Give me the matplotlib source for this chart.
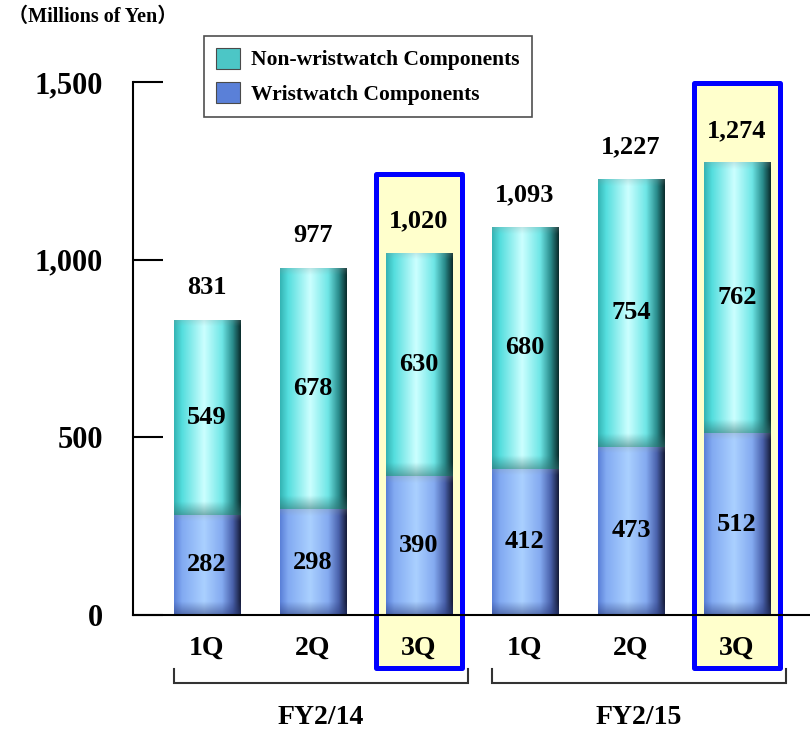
import numpy as np
import matplotlib
matplotlib.use("Agg")
import matplotlib.pyplot as plt
from matplotlib.patches import Rectangle, Patch
from matplotlib.colors import to_rgb

plt.rcParams['font.family'] = ['Liberation Serif', 'Noto Sans CJK JP', 'DejaVu Sans']
plt.rcParams['font.weight'] = 'bold'

# ---- data ----
quarters = ['1Q', '2Q', '3Q', '1Q', '2Q', '3Q']
wristwatch = [282, 298, 390, 412, 473, 512]
non_wristwatch = [549, 678, 630, 680, 754, 762]
totals = [831, 977, 1020, 1093, 1227, 1274]
groups = ['FY2/14', 'FY2/15']
group_members = [[0, 1, 2], [3, 4, 5]]
highlight = [2, 5]
y_ticks = [0, 500, 1000, 1500]
y_labels = ['0', '500', '1,000', '1,500']

# ---- styles ----
cyan_stops = [(0.0, '#34b4b4'), (0.12, '#55dede'), (0.45, '#ccffff'),
              (0.72, '#6ee6e6'), (0.88, '#2a8c8c'), (1.0, '#0a2c2c')]
blue_stops = [(0.0, '#5a80d8'), (0.12, '#82aaf2'), (0.45, '#aad0ff'),
              (0.72, '#84aaf0'), (0.88, '#4a62ac'), (1.0, '#161c3a')]
cyan_dark = '#2e6e6e'
blue_dark = '#2a3a78'

fig = plt.figure(figsize=(8.1, 7.31), dpi=100)
ax = fig.add_axes([133/810, 1-615/731, 677/810, 533/731])
ax.set_xlim(-0.698, 5.689)
ax.set_ylim(0, 1500)

x = np.arange(len(quarters))
width = 0.63


def profile(stops, n=120):
    t = np.linspace(0, 1, n)
    pos = [s[0] for s in stops]
    cols = np.array([to_rgb(s[1]) for s in stops])
    return np.stack([np.interp(t, pos, cols[:, k]) for k in range(3)], axis=1)


def shade_bar(patch, stops, dark, height):
    xs = patch.get_x(); w = patch.get_width(); y0 = patch.get_y()
    prof = profile(stops)
    rows = 200
    img = np.tile(prof[None, :, :], (rows, 1, 1))
    d_from_bottom = (1 - (np.arange(rows) + 0.5) / rows) * height
    band = 38.0
    f = np.clip(1 - d_from_bottom / band, 0, 1) * 0.55
    dc = np.array(to_rgb(dark))
    img = img * (1 - f[:, None, None]) + dc[None, None, :] * f[:, None, None]
    d_from_top = ((np.arange(rows) + 0.5) / rows) * height
    g = np.clip(1 - d_from_top / 20.0, 0, 1) * 0.25
    img = img * (1 - g[:, None, None]) + np.array([0.55, 0.6, 0.6])[None, None, :] * g[:, None, None]
    im = ax.imshow(img, extent=[xs, xs + w, y0, y0 + height], aspect='auto',
                   zorder=3, interpolation='bilinear')
    im.set_clip_path(patch)


# highlight boxes
for i in highlight:
    rect = Rectangle((x[i] - 0.405, -148), 0.81, totals[i] + 222 + 148,
                     facecolor='#ffffcc', edgecolor='#0000ff', linewidth=3.6,
                     joinstyle='round', clip_on=False, zorder=1)
    ax.add_patch(rect)

bars_b = ax.bar(x, wristwatch, width, color='#82aaf2', edgecolor='none', zorder=2)
bars_t = ax.bar(x, non_wristwatch, width, bottom=wristwatch, color='#6ee6e6',
                edgecolor='none', zorder=2)
for p, h in zip(bars_b, wristwatch):
    shade_bar(p, blue_stops, blue_dark, h)
for p, h in zip(bars_t, non_wristwatch):
    shade_bar(p, cyan_stops, cyan_dark, h)

# value labels
for i in range(len(x)):
    ax.text(x[i], wristwatch[i] / 2, f'{wristwatch[i]:,}', ha='center', va='center',
            fontsize=19, fontweight='bold', zorder=5)
    ax.text(x[i], wristwatch[i] + non_wristwatch[i] / 2, f'{non_wristwatch[i]:,}',
            ha='center', va='center', fontsize=19, fontweight='bold', zorder=5)
    ax.annotate(f'{totals[i]:,}', (x[i], totals[i]), xytext=(0, 23),
                textcoords='offset points', ha='center', va='center',
                fontsize=19, fontweight='bold', zorder=5, annotation_clip=False)

# axes styling
for s in ['top', 'right']:
    ax.spines[s].set_visible(False)
ax.spines['left'].set_linewidth(1.5)
ax.spines['bottom'].set_linewidth(1.5)
ax.spines['bottom'].set_zorder(4)
ax.set_yticks(y_ticks)
ax.set_yticklabels(y_labels, fontsize=22, fontweight='bold')
ax.tick_params(axis='y', direction='in', length=21.6, width=1.5, pad=21.6)
ax.set_xticks(x)
ax.set_xticklabels(quarters, fontsize=20, fontweight='bold')
ax.tick_params(axis='x', length=0, pad=15)

# group brackets
for g, members in zip(groups, group_members):
    x0 = x[members[0]] - 0.311
    x1 = x[members[-1]] + 0.462
    ax.plot([x0, x0, x1, x1], [-152, -191, -191, -152], color='#333333', lw=1.5,
            clip_on=False, zorder=4, solid_joinstyle='miter')
    ax.annotate(g, ((x0 + x1) / 2, 0), xytext=(0, -74), textcoords='offset points',
                ha='center', va='center', fontsize=20, fontweight='bold',
                annotation_clip=False)

# legend
handles = [Patch(facecolor='#4cc6c6', edgecolor='#4a4a4a', linewidth=0.8),
           Patch(facecolor='#5a80d8', edgecolor='#4a4a4a', linewidth=0.8)]
leg = fig.legend(handles, ['Non-wristwatch Components', 'Wristwatch Components'],
                 loc='upper left', bbox_to_anchor=(204/810, 1-36/731),
                 frameon=True, fancybox=False, edgecolor='#222222',
                 prop={'family': 'Liberation Serif', 'weight': 'bold', 'size': 15.5},
                 handlelength=1.1, handleheight=1.1, handletextpad=0.55,
                 borderpad=0.55, labelspacing=0.55, borderaxespad=0)
leg.get_frame().set_linewidth(1.2)

fig.text(8/810, 1-17/731, '（Millions of Yen）', ha='left', va='center',
         fontsize=14.5, fontweight='bold')

fig.savefig('out.png', dpi=100)
